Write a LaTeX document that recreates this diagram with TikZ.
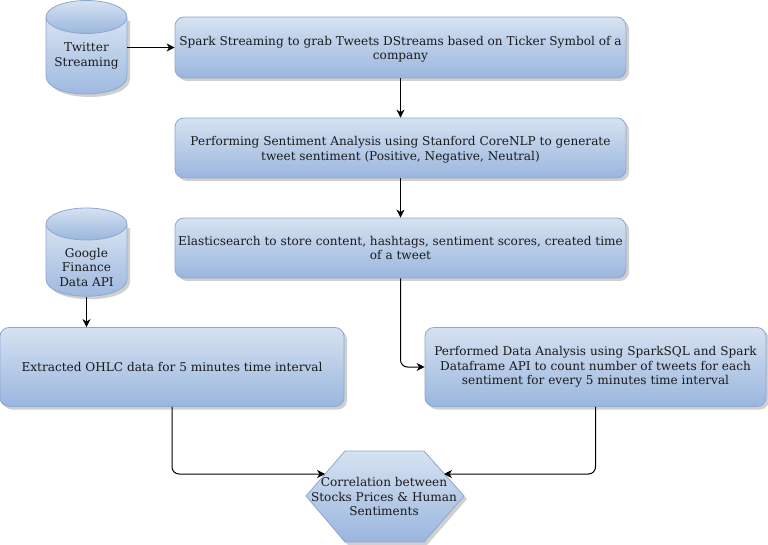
\documentclass[tikz,border=0pt]{standalone}
\usepackage{fontspec}
\setmainfont{DejaVu Serif}
\usetikzlibrary{arrows.meta,shadows,calc}
\definecolor{gtop}{HTML}{D6E2F1}
\definecolor{gbot}{HTML}{9AB6DE}
\definecolor{gline}{HTML}{8CA8D2}
\definecolor{gshadow}{HTML}{D0D0D0}
\definecolor{ink}{HTML}{1A1A1A}
\newcommand{\txtfont}{\fontsize{12.1}{14.5}\selectfont}
\newcommand{\lift}{\rule{0pt}{12.5pt}}
\tikzset{
  softshadow/.style={drop shadow={shadow xshift=3pt,shadow yshift=-3pt,fill=gshadow,opacity=1}},
  gradfill/.style={top color=gtop,bottom color=gbot,draw=gline,line width=0.8pt},
  procbox/.style={gradfill,softshadow,rectangle,rounded corners=9pt,align=center,inner sep=0pt,text=ink,font=\txtfont},
  plainlabel/.style={align=center,inner sep=0pt,text=ink,font=\txtfont},
  link/.style={-{Stealth[length=8pt,width=8pt,inset=2.5pt]},line width=1pt,black,rounded corners=7pt},
}
\begin{document}
\begin{tikzpicture}[x=1pt,y=-1pt]
\useasboundingbox (0,0) rectangle (768,545);
% process boxes
\node[procbox,minimum width=451pt,minimum height=61pt] (spark) at (400.5,47.5) {\lift Spark Streaming to grab Tweets DStreams based on Ticker Symbol of a\\company};
\node[procbox,minimum width=451pt,minimum height=60pt] (sent) at (400.5,148) {\lift Performing Sentiment Analysis using Stanford CoreNLP to generate\\tweet sentiment (Positive, Negative, Neutral)};
\node[procbox,minimum width=451pt,minimum height=60pt] (elastic) at (400.5,248) {Elasticsearch to store content, hashtags, sentiment scores, created time\\of a tweet};
\node[procbox,minimum width=344pt,minimum height=79pt] (ohlc) at (172,367) {Extracted OHLC data for 5 minutes time interval};
\node[procbox,minimum width=341pt,minimum height=79pt] (analysis) at (595.5,367) {Performed Data Analysis using SparkSQL and Spark\\Dataframe API to count number of tweets for each\\sentiment for every 5 minutes time interval};
% cylinder 1
\path[fill=gshadow] (49,21) -- (49,79) .. controls (49,103) and (130,103) .. (130,79) -- (130,21) -- cycle;
\path[gradfill] (46,18) -- (46,76) .. controls (46,100) and (127,100) .. (127,76) -- (127,18) -- cycle;
\path[gradfill] (86.5,17) ellipse[x radius=40.5,y radius=16.5];
\node[plainlabel,minimum width=81pt] (twitter) at (86.5,56) {Twitter\\Streaming};
\coordinate (twport) at (127,47.5);
% cylinder 2
\path[fill=gshadow] (49,228) -- (49,282) .. controls (49,305) and (130,305) .. (130,282) -- (130,228) -- cycle;
\path[gradfill] (46,225) -- (46,279) .. controls (46,302) and (127,302) .. (127,279) -- (127,225) -- cycle;
\path[gradfill] (86.5,224) ellipse[x radius=40.5,y radius=16];
\node[plainlabel,minimum width=81pt] (google) at (86.5,267) {Google\\Finance\\Data API};
\coordinate (gbase) at (86.5,297);
% hexagon
\path[fill=gshadow] (348,454) -- (427,454) -- (467,499) -- (427,545) -- (348,545) -- (309,499) -- cycle;
\path[gradfill] (345,451) -- (424,451) -- (464,496) -- (424,542) -- (345,542) -- (306,496) -- cycle;
\node[plainlabel] (corr) at (384,496.5) {Correlation between\\Stocks Prices \& Human\\Sentiments};
\coordinate (corrL) at (325,474);
\coordinate (corrR) at (444,474);
% connectors
\draw[link] (twport) -- (spark.west);
\draw[link] (spark) -- (sent);
\draw[link] (sent) -- (elastic);
\draw[link] (gbase) -- (ohlc.north -| gbase);
\draw[link] (elastic.south) |- (analysis.west);
\draw[link] (ohlc.south) |- (corrL);
\draw[link] (analysis.south) |- (corrR);
\end{tikzpicture}
\end{document}
